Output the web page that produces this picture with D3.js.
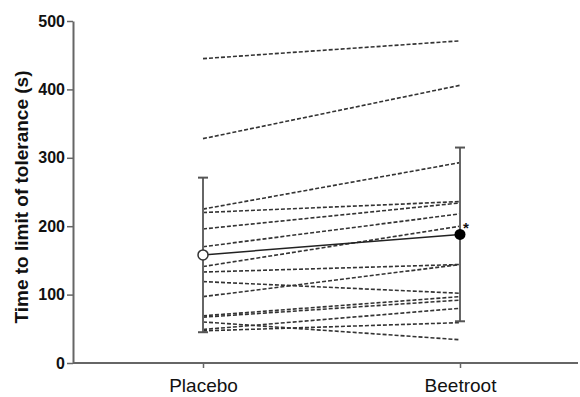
<!DOCTYPE html>
<html>
<head>
<meta charset="utf-8">
<script src="https://cdn.jsdelivr.net/npm/d3@7"></script>
<style>
  body { margin: 0; background: #fff; }
  svg { display: block; font-family: "Liberation Sans", Arial, sans-serif; }
</style>
</head>
<body>
<div class="container"></div>
<script>
// individual subjects, time to limit of tolerance (s)
var categories = ["Placebo", "Beetroot"];
var placebo  = [445, 328, 225, 220, 196, 170, 141, 133, 119, 97, 69, 67, 60, 49, 47];
var beetroot = [471, 406, 293, 236, 234, 218, 200, 144, 102, 144, 97, 92, 34, 80, 59];
var groupMean = [158, 188];
var groupSD = [113, 127];
var yTicks = [0, 100, 200, 300, 400, 500];

const WIDTH = 580;
const HEIGHT = 397;

var svg = d3.select(".container").append("svg")
    .attr("width", WIDTH)
    .attr("height", HEIGHT);

var x = d3.scalePoint().domain(categories).range([203, 460]);
var y = d3.scaleLinear().domain([0, 500]).range([363, 21]);

// y axis
var yAxis = svg.append("g")
    .attr("transform", "translate(73,0)")
    .call(d3.axisLeft(y).tickValues(yTicks).tickSize(6).tickPadding(2).tickSizeOuter(0));
yAxis.select(".domain").attr("stroke", "#666").attr("stroke-width", 2);
yAxis.selectAll(".tick line").attr("stroke", "#666").attr("stroke-width", 1.5);
yAxis.selectAll("text")
    .attr("font-size", 16).attr("font-weight", "bold")
    .attr("font-family", "Liberation Sans, Arial, sans-serif")
    .attr("fill", "#111");

// x axis
var xAxis = svg.append("g")
    .attr("transform", "translate(0,363)")
    .call(d3.axisBottom(x).tickSize(5).tickPadding(11).tickSizeOuter(0));
xAxis.select(".domain").attr("d", "M73,0H578").attr("stroke", "#666").attr("stroke-width", 2);
xAxis.selectAll(".tick line").attr("stroke", "#666").attr("stroke-width", 1.5);
xAxis.selectAll("text")
    .attr("font-size", 19)
    .attr("font-family", "Liberation Sans, Arial, sans-serif")
    .attr("fill", "#111");

// y title
svg.append("text")
    .attr("transform", "translate(28,197) rotate(-90)")
    .attr("text-anchor", "middle")
    .attr("font-size", 19)
    .attr("font-weight", "bold")
    .attr("fill", "#111")
    .text("Time to limit of tolerance (s)");

// paired subject lines
var pairs = placebo.map(function (d, i) { return [d, beetroot[i]]; });
svg.append("g").selectAll("line")
    .data(pairs)
  .enter().append("line")
    .attr("x1", x("Placebo"))
    .attr("x2", x("Beetroot"))
    .attr("y1", function (d) { return y(d[0]); })
    .attr("y2", function (d) { return y(d[1]); })
    .attr("stroke", "#333")
    .attr("stroke-width", 1.6)
    .attr("stroke-dasharray", "4,2");

// error bars
var bars = svg.append("g").selectAll("g")
    .data(categories)
  .enter().append("g");
bars.append("line")
    .attr("x1", function (d) { return x(d); })
    .attr("x2", function (d) { return x(d); })
    .attr("y1", function (d, i) { return y(groupMean[i] - groupSD[i]); })
    .attr("y2", function (d, i) { return y(groupMean[i] + groupSD[i]); })
    .attr("stroke", "#666").attr("stroke-width", 2);
[-1, 1].forEach(function (s) {
  bars.append("line")
      .attr("x1", function (d) { return x(d) - 5; })
      .attr("x2", function (d) { return x(d) + 5; })
      .attr("y1", function (d, i) { return y(groupMean[i] + s * groupSD[i]); })
      .attr("y2", function (d, i) { return y(groupMean[i] + s * groupSD[i]); })
      .attr("stroke", "#555").attr("stroke-width", 2);
});

// mean line
svg.append("line")
    .attr("x1", x("Placebo")).attr("x2", x("Beetroot"))
    .attr("y1", y(groupMean[0])).attr("y2", y(groupMean[1]))
    .attr("stroke", "#222").attr("stroke-width", 1.5);

// mean markers
svg.append("circle")
    .attr("cx", x("Placebo")).attr("cy", y(groupMean[0])).attr("r", 5)
    .attr("fill", "#fff").attr("stroke", "#333").attr("stroke-width", 1.5);
svg.append("circle")
    .attr("cx", x("Beetroot")).attr("cy", y(groupMean[1])).attr("r", 5.5)
    .attr("fill", "#000");

svg.append("text")
    .attr("x", x("Beetroot") + 3)
    .attr("y", y(groupMean[1]) - 1)
    .attr("font-size", 15)
    .attr("font-weight", "bold")
    .attr("fill", "#111")
    .text("*");
</script>
</body>
</html>
